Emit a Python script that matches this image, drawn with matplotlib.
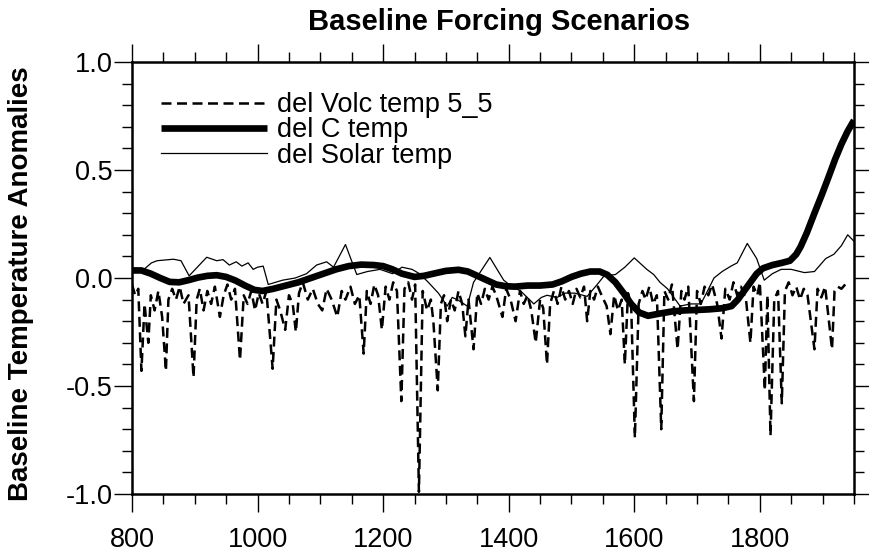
import matplotlib
matplotlib.use("Agg")
import matplotlib.pyplot as plt
from matplotlib.ticker import MultipleLocator

plt.rcParams['font.family'] = ['Liberation Sans', 'DejaVu Sans']

# Volcanic-forcing temperature anomaly (year, value)
volc_years = [800, 805, 810, 815, 820, 826, 830, 836, 842, 848, 854, 858, 864, 870, 876,
              882, 890, 898, 903, 908, 914, 920, 926, 932, 940, 946, 952, 958, 964, 972,
              978, 984, 990, 996, 1002, 1008, 1014, 1024, 1030, 1036, 1044, 1050, 1056,
              1061, 1066, 1072, 1080, 1088, 1096, 1103, 1110, 1118, 1127, 1134, 1140,
              1148, 1155, 1162, 1169, 1174, 1180, 1186, 1192, 1198, 1204, 1210, 1216,
              1222, 1229, 1234, 1240, 1246, 1251, 1257, 1263, 1270, 1276, 1280, 1287,
              1292, 1297, 1302, 1308, 1314, 1320, 1326, 1331, 1336, 1344, 1350, 1356,
              1362, 1368, 1374, 1380, 1390, 1396, 1403, 1411, 1418, 1424, 1430, 1436,
              1443, 1450, 1455, 1461, 1466, 1472, 1478, 1484, 1490, 1496, 1502, 1508,
              1514, 1520, 1525, 1530, 1536, 1542, 1548, 1556, 1562, 1568, 1574, 1580,
              1585, 1590, 1595, 1601, 1607, 1613, 1618, 1624, 1630, 1636, 1643, 1648,
              1654, 1660, 1669, 1675, 1680, 1686, 1695, 1700, 1706, 1712, 1718, 1724,
              1732, 1739, 1745, 1752, 1758, 1764, 1770, 1778, 1785, 1790, 1796, 1800,
              1808, 1812, 1817, 1823, 1829, 1835, 1840, 1846, 1852, 1858, 1864, 1870,
              1876, 1887, 1892, 1898, 1904, 1915, 1919, 1924, 1930, 1936]
volc_vals = [-0.03, -0.08, -0.05, -0.43, -0.12, -0.30, -0.08, -0.15, -0.06, -0.18, -0.43,
             -0.10, -0.05, -0.10, -0.04, -0.12, -0.08, -0.46, -0.10, -0.05, -0.15, -0.06,
             -0.12, -0.04, -0.18, -0.08, -0.03, -0.10, -0.05, -0.38, -0.08, -0.12, -0.06,
             -0.15, -0.07, -0.12, -0.06, -0.42, -0.10, -0.15, -0.24, -0.08, -0.12, -0.25,
             -0.07, -0.02, -0.10, -0.05, -0.12, -0.15, -0.05, -0.10, -0.18, -0.06, -0.10,
             -0.04, -0.12, -0.08, -0.35, -0.06, -0.12, -0.03, -0.08, -0.24, -0.04, -0.10,
             -0.02, -0.06, -0.57, -0.05, -0.02, -0.10, -0.03, -0.99, -0.06, -0.15, -0.10,
             -0.20, -0.52, -0.12, -0.08, -0.20, -0.10, -0.15, -0.06, -0.12, -0.27, -0.10,
             -0.33, -0.07, -0.12, -0.05, -0.10, -0.04, -0.08, -0.18, -0.05, -0.10, -0.20,
             -0.06, -0.12, -0.08, -0.15, -0.30, -0.10, -0.14, -0.40, -0.12, -0.06, -0.12,
             -0.04, -0.10, -0.06, -0.12, -0.05, -0.09, -0.04, -0.20, -0.06, -0.10, -0.04,
             -0.08, -0.13, -0.26, -0.08, -0.15, -0.10, -0.40, -0.07, -0.12, -0.74, -0.12,
             -0.06, -0.10, -0.04, -0.12, -0.08, -0.70, -0.06, -0.10, -0.03, -0.33, -0.06,
             -0.10, -0.04, -0.57, -0.06, -0.12, -0.04, -0.08, -0.03, -0.12, -0.28, -0.05,
             -0.10, -0.02, -0.08, -0.04, -0.10, -0.30, -0.04, -0.08, -0.02, -0.52, -0.08,
             -0.73, -0.10, -0.06, -0.58, -0.06, -0.02, -0.08, -0.04, -0.10, -0.05, -0.08,
             -0.33, -0.05, -0.09, -0.04, -0.33, -0.06, -0.04, -0.05, -0.03]

# Carbon-forcing temperature anomaly (smooth)
c_years = [800, 815, 830, 845, 860, 875, 890, 905, 920, 935, 950, 965, 980, 995, 1008,
           1025, 1045, 1065, 1085, 1105, 1125, 1145, 1165, 1185, 1200, 1215, 1230, 1250,
           1265, 1280, 1300, 1320, 1335, 1350, 1365, 1380, 1395, 1410, 1430, 1450, 1470,
           1485, 1500, 1515, 1530, 1545, 1557, 1570, 1583, 1595, 1608, 1622, 1640, 1660,
           1680, 1700, 1720, 1740, 1755, 1765, 1775, 1785, 1795, 1805, 1820, 1835, 1848,
           1858, 1865, 1875, 1887, 1898, 1908, 1920, 1930, 1940, 1950]
c_vals = [0.035, 0.035, 0.02, 0.0, -0.018, -0.02, -0.01, 0.002, 0.01, 0.013, 0.005,
          -0.012, -0.035, -0.055, -0.06, -0.05, -0.035, -0.02, 0.0, 0.02, 0.04, 0.055,
          0.062, 0.06, 0.055, 0.04, 0.02, 0.005, 0.01, 0.02, 0.033, 0.038, 0.03, 0.01,
          -0.01, -0.03, -0.038, -0.04, -0.035, -0.035, -0.03, -0.015, 0.005, 0.02, 0.03,
          0.03, 0.015, -0.02, -0.07, -0.12, -0.16, -0.175, -0.165, -0.155, -0.15, -0.148,
          -0.145, -0.14, -0.13, -0.10, -0.06, -0.02, 0.02, 0.045, 0.06, 0.07, 0.08, 0.11,
          0.145, 0.21, 0.30, 0.38, 0.456, 0.55, 0.62, 0.68, 0.73]

# Solar-forcing temperature anomaly
solar_years = [800, 815, 831, 840, 866, 878, 891, 919, 935, 945, 955, 966, 975, 985, 993,
               1000, 1009, 1017, 1040, 1060, 1078, 1094, 1110, 1121, 1140, 1158, 1175,
               1195, 1215, 1230, 1246, 1258, 1272, 1288, 1302, 1310, 1318, 1334, 1344,
               1370, 1392, 1405, 1419, 1440, 1452, 1461, 1477, 1490, 1505, 1525, 1541,
               1552, 1570, 1585, 1600, 1620, 1631, 1641, 1653, 1673, 1690, 1706, 1715,
               1727, 1740, 1754, 1764, 1780, 1795, 1807, 1820, 1834, 1850, 1871, 1887,
               1905, 1918, 1930, 1940, 1950]
solar_vals = [0.04, 0.03, 0.07, 0.08, 0.087, 0.08, 0.01, 0.096, 0.08, 0.085, 0.06, 0.075,
              0.055, 0.07, 0.04, 0.05, 0.055, -0.03, -0.01, 0.0, 0.02, 0.06, 0.075, 0.05,
              0.155, 0.016, 0.03, 0.04, 0.02, 0.05, 0.04, 0.02, -0.02, -0.07, -0.13, -0.09,
              -0.10, -0.13, -0.02, 0.095, -0.01, -0.04, -0.06, -0.12, -0.09, -0.08, -0.09,
              -0.07, -0.07, -0.085, -0.03, 0.01, 0.016, 0.05, 0.093, 0.04, 0.016, -0.02,
              -0.05, -0.13, -0.12, -0.12, -0.07, 0.0, 0.03, 0.055, 0.07, 0.16, 0.09, -0.01,
              0.02, 0.04, 0.04, 0.025, 0.03, 0.09, 0.11, 0.15, 0.2, 0.17]

x_ticks = [800, 1000, 1200, 1400, 1600, 1800]
y_ticks = [-1.0, -0.5, 0.0, 0.5, 1.0]
y_tick_labels = ["-1.0", "-0.5", "0.0", "0.5", "1.0"]

W, H = 870, 554
fig = plt.figure(figsize=(W / 100, H / 100), dpi=100)
ax = fig.add_axes([132 / W, 1 - 494 / H, (854 - 132) / W, (494 - 62) / H])

ax.plot(volc_years, volc_vals, color="black", lw=1.8, dashes=(4, 2.2),
        label="del Volc temp 5_5")
ax.plot(c_years, c_vals, color="black", lw=4.8, solid_capstyle="butt",
        solid_joinstyle="round", label="del C temp")
ax.plot(solar_years, solar_vals, color="black", lw=0.9, label="del Solar temp")

ax.set_xlim(800, 1950)
ax.set_ylim(-1.0, 1.0)
ax.set_xticks(x_ticks)
ax.set_xticklabels([str(v) for v in x_ticks])
ax.set_yticks(y_ticks)
ax.set_yticklabels(y_tick_labels)
ax.xaxis.set_minor_locator(MultipleLocator(50))
ax.yaxis.set_minor_locator(MultipleLocator(0.1))

for s in ax.spines.values():
    s.set_linewidth(1.8)

ax.tick_params(which="both", direction="out", top=True, right=True,
               labelsize=19.5, width=1.0, colors="black")
ax.tick_params(which="major", length=13)
ax.tick_params(which="minor", length=7)
ax.tick_params(axis="x", which="major", pad=11)
ax.tick_params(axis="y", which="major", pad=1)

fig.text(499 / W, 1 - 29.8 / H, "Baseline Forcing Scenarios", fontsize=21,
         fontweight="bold", ha="center", va="baseline")
fig.text(21.5 / W, 1 - 283.5 / H, "Baseline Temperature Anomalies", fontsize=20,
         fontweight="bold", rotation=90, ha="center", va="center")

ax.legend(loc="upper left", bbox_to_anchor=(0.040, 0.930), frameon=False,
          fontsize=19.5, handlelength=3.9, handletextpad=0.37, labelspacing=-0.03,
          borderpad=0, borderaxespad=0)

fig.savefig("out.png", dpi=100)
